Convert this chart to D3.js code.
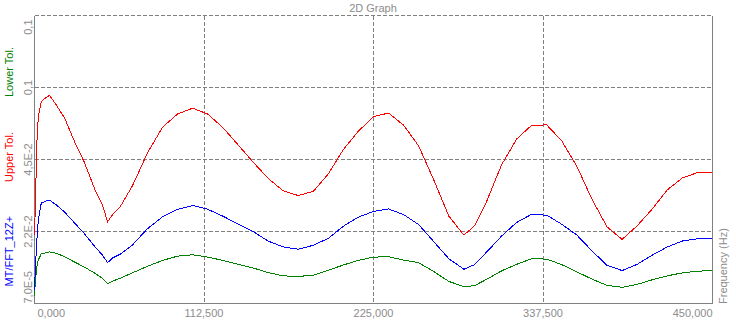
<!DOCTYPE html>
<html>
<head>
<meta charset="utf-8">
<script src="https://cdnjs.cloudflare.com/ajax/libs/d3/7.8.5/d3.min.js"></script>
<style>
  body { margin: 0; background: #fff; }
  svg text { font-family: "Liberation Sans", Arial, sans-serif; }
</style>
</head>
<body>
<svg id="chart" width="736" height="324"></svg>
<script>
// frequency (Hz) and amplitude
var freqs = [0, 0.6, 1.5, 2.5, 4.5, 7.5, 10, 15, 20, 27, 33, 40, 45, 48.5, 52, 57, 65, 75, 85, 95,
  105, 115, 125, 135, 145, 155, 165, 175, 185, 195, 205, 215, 225, 235, 245, 255, 265, 275, 285, 292,
  300, 310, 320, 330, 340, 350, 360, 370, 380, 390, 400, 410, 420, 430, 440, 450];

var upperTol = [0.0210, 0.0305, 0.0561, 0.0773, 0.0892, 0.0922, 0.0940, 0.0857, 0.0766, 0.0575, 0.0442, 0.0355, 0.0307, 0.0251, 0.0275, 0.0300, 0.0366, 0.0500, 0.0697, 0.0798,
  0.0842, 0.0797, 0.0694, 0.0564, 0.0442, 0.0390, 0.0350, 0.0335, 0.0348, 0.0404, 0.0526, 0.0667, 0.0777, 0.0805, 0.0712, 0.0553, 0.0385, 0.0269, 0.0209, 0.0238,
  0.0315, 0.0433, 0.0606, 0.0712, 0.0714, 0.0591, 0.0428, 0.0323, 0.0235, 0.0196, 0.0238, 0.0292, 0.0353, 0.0391, 0.0408, 0.0409];

var measured = [0.0043, 0.0110, 0.0189, 0.0257, 0.0311, 0.0317, 0.0320, 0.0303, 0.0282, 0.0245, 0.0214, 0.0174, 0.0149, 0.0125, 0.0140, 0.0151, 0.0179, 0.0229, 0.0267, 0.0291,
  0.0303, 0.0291, 0.0269, 0.0244, 0.0220, 0.0191, 0.0173, 0.0166, 0.0178, 0.0199, 0.0237, 0.0266, 0.0284, 0.0292, 0.0274, 0.0242, 0.0189, 0.0137, 0.0105, 0.0119,
  0.0157, 0.0206, 0.0249, 0.0275, 0.0272, 0.0243, 0.0209, 0.0161, 0.0117, 0.0101, 0.0120, 0.0148, 0.0173, 0.0191, 0.0198, 0.0199];

var lowerTol = [0.0025, 0.0071, 0.0110, 0.0133, 0.0152, 0.0155, 0.0158, 0.0153, 0.0143, 0.0126, 0.0112, 0.0093, 0.0078, 0.0061, 0.0069, 0.0078, 0.0094, 0.0114, 0.0132, 0.0145,
  0.0149, 0.0142, 0.0132, 0.0120, 0.0109, 0.0095, 0.0085, 0.0083, 0.0087, 0.0102, 0.0118, 0.0132, 0.0142, 0.0143, 0.0133, 0.0125, 0.0098, 0.0068, 0.0052, 0.0055,
  0.0074, 0.0100, 0.0120, 0.0137, 0.0136, 0.0119, 0.0097, 0.0075, 0.0056, 0.0050, 0.0059, 0.0073, 0.0085, 0.0094, 0.0099, 0.0101];

var xTicks = [0, 112.5, 225, 337.5, 450];
var yTicks = [0.00007, 0.022, 0.045, 0.1, 0.16];
var yTickLabels = ["7,0E-5", "2,2E-2", "4,5E-2", "0,1", "0,1"];

var series = [
  { name: "Lower Tol.", values: lowerTol, color: "#008000" },
  { name: "Upper Tol.", values: upperTol, color: "#ff0000" },
  { name: "MT/FFT_12Z+", values: measured, color: "#0000ff" }
];

var plotLeft = 34.5, plotRight = 712.5, plotTop = 15.5, plotBottom = 303.5;
var grey = "#808080", labelGrey = "#8c8c8c";

var svg = d3.select("#chart");

var x = d3.scaleLinear().domain([0, 450]).range([plotLeft, plotRight]);
// the y axis of the original is not linear: ticks are spaced evenly
var y = d3.scaleLinear()
  .domain(yTicks)
  .range(yTicks.map(function(d, i) { return plotBottom - i * (plotBottom - plotTop) / (yTicks.length - 1); }));

// grid
svg.append("g").selectAll("line")
  .data(yTicks.slice(1))
  .enter().append("line")
    .attr("x1", plotLeft).attr("x2", plotRight)
    .attr("y1", function(d) { return Math.floor(y(d)) + 0.5; })
    .attr("y2", function(d) { return Math.floor(y(d)) + 0.5; })
    .attr("stroke", grey).attr("stroke-dasharray", "4,2")
    .attr("shape-rendering", "crispEdges");

svg.append("g").selectAll("line")
  .data(xTicks.slice(1, -1))
  .enter().append("line")
    .attr("y1", plotTop).attr("y2", plotBottom)
    .attr("x1", function(d) { return Math.floor(x(d)) + 0.5; })
    .attr("x2", function(d) { return Math.floor(x(d)) + 0.5; })
    .attr("stroke", grey).attr("stroke-dasharray", "4,2")
    .attr("shape-rendering", "crispEdges");

// axes frame (left, bottom, right)
svg.append("path")
  .attr("d", "M" + plotLeft + "," + plotTop + "V" + plotBottom + "H" + plotRight + "V" + plotTop)
  .attr("fill", "none").attr("stroke", grey)
  .attr("shape-rendering", "crispEdges");

// curves
var line = d3.line()
  .x(function(d, i) { return x(freqs[i]); })
  .y(function(d) { return y(d); });

svg.append("g").selectAll("path")
  .data([series[0], series[2], series[1]])
  .enter().append("path")
    .attr("d", function(s) { return line(s.values); })
    .attr("fill", "none")
    .attr("stroke", function(s) { return s.color; })
    .attr("stroke-width", 1)
    .attr("shape-rendering", "crispEdges");

// x tick labels
var fmt = function(d) { return d3.format(".3f")(d).replace(".", ","); };
svg.append("g").selectAll("text")
  .data(xTicks)
  .enter().append("text")
    .attr("x", function(d, i) { return i === 0 ? x(d) + 3 : x(d); })
    .attr("y", 317)
    .attr("text-anchor", function(d, i) { return i === 0 ? "start" : (i === xTicks.length - 1 ? "end" : "middle"); })
    .attr("font-size", 11)
    .attr("fill", labelGrey)
    .text(fmt);

// y tick labels, rotated
svg.append("g").selectAll("text")
  .data(yTicks)
  .enter().append("text")
    .attr("transform", function(d, i) {
      var yy = y(d);
      if (i === 0) yy = plotBottom;
      if (i === yTicks.length - 1) yy = plotTop + 4;
      return "translate(32," + yy + ") rotate(-90)";
    })
    .attr("text-anchor", function(d, i) { return i === 0 ? "start" : (i === yTicks.length - 1 ? "end" : "middle"); })
    .attr("font-size", 11)
    .attr("fill", labelGrey)
    .text(function(d, i) { return yTickLabels[i]; });

// legend names down the left side
var legendY = [97, 182, 286.5];
svg.append("g").selectAll("text")
  .data(series)
  .enter().append("text")
    .attr("transform", function(d, i) { return "translate(13," + legendY[i] + ") rotate(-90)"; })
    .attr("font-size", 11)
    .attr("fill", function(d) { return d.color; })
    .text(function(d) { return d.name; });

// axis title on the right
svg.append("text")
  .attr("transform", "translate(727," + (plotBottom + 0.5) + ") rotate(-90)")
  .attr("font-size", 11)
  .attr("fill", labelGrey)
  .text("Frequency (Hz)");

svg.append("text")
  .attr("x", 373).attr("y", 12)
  .attr("text-anchor", "middle")
  .attr("font-size", 11)
  .attr("fill", labelGrey)
  .text("2D Graph");
</script>
</body>
</html>
